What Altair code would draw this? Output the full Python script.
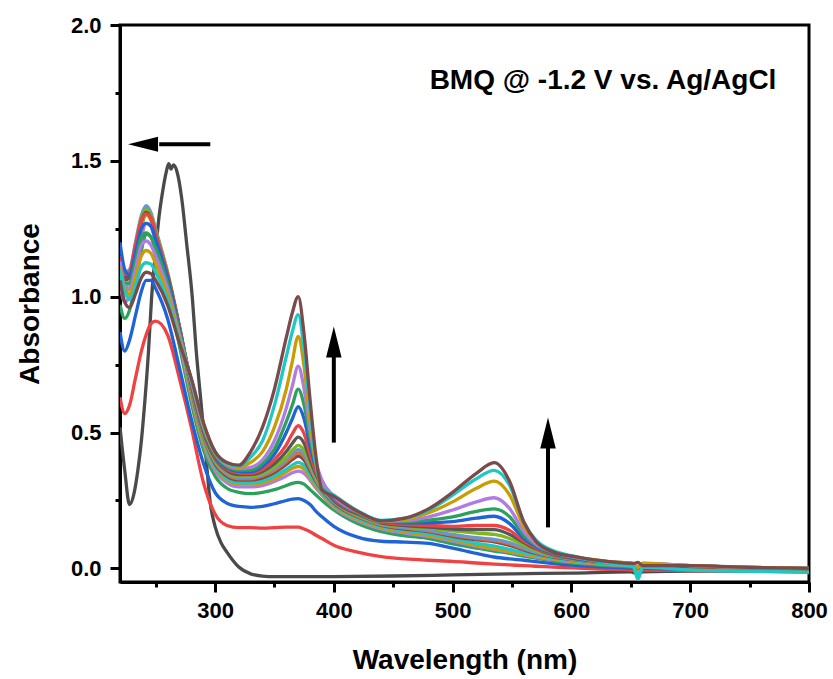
import altair as alt
import pandas as pd

# ---------------- data ----------------
WL = [220, 224, 228, 233, 238, 242, 246, 250, 260, 270, 280, 290, 300, 310,
      320, 330, 340, 350, 360, 365, 370, 375, 380, 385, 390, 400,
      420, 440, 460, 480, 500, 520, 535, 548, 560, 570, 585, 600,
      630, 652, 656, 660, 700, 750, 800]

GRAY_WL = [220, 224, 228, 232, 235, 238, 241, 244, 246.5, 250, 253, 256, 259, 261, 263,
           265, 268, 272, 276, 281, 284, 288, 292, 296, 300, 305, 310, 320, 330, 340,
           350, 400, 450, 500, 550, 600, 650, 656, 660, 700, 750, 800]
GRAY_AB = [0.52, 0.36, 0.235, 0.28, 0.36, 0.47, 0.62, 0.80, 0.99, 1.17, 1.30, 1.39, 1.46, 1.49, 1.47,
           1.485, 1.46, 1.36, 1.20, 0.99, 0.81, 0.62, 0.43, 0.24, 0.155, 0.095, 0.06, 0.005, -0.02, -0.028,
           -0.03, -0.03, -0.028, -0.024, -0.02, -0.017, -0.013, -0.02, -0.013, -0.01, -0.01, -0.01]

RED1 = [0.63, 0.57, 0.60, 0.70, 0.80, 0.86, 0.90, 0.91,
        0.86, 0.70, 0.52, 0.32, 0.20, 0.158,
        0.15, 0.15, 0.148, 0.15, 0.152, 0.152, 0.152, 0.145, 0.135, 0.122, 0.11, 0.085,
        0.06, 0.043, 0.035, 0.03, 0.026, 0.02, 0.016, 0.013, 0.01, 0.008, 0.005, 0.002,
        -0.003, -0.006, -0.015, -0.006, -0.008, -0.01, -0.012]
BLUE2 = [0.87, 0.80, 0.84, 0.93, 1.02, 1.06, 1.06, 1.03,
         0.92, 0.74, 0.55, 0.39, 0.28, 0.24,
         0.228, 0.225, 0.228, 0.238, 0.25, 0.255, 0.257, 0.25, 0.235, 0.21, 0.19, 0.155,
         0.115, 0.10, 0.097, 0.092, 0.075, 0.055, 0.042, 0.035, 0.03, 0.025, 0.018, 0.012,
         0.005, 0.0, -0.012, 0.0, -0.004, -0.008, -0.01]
GREEN3 = [0.97, 0.92, 0.95, 1.05, 1.17, 1.23, 1.22, 1.17,
          1.02, 0.82, 0.61, 0.44, 0.34, 0.295,
          0.28, 0.275, 0.28, 0.29, 0.305, 0.313, 0.317, 0.31, 0.29, 0.27, 0.25, 0.215,
          0.165, 0.135, 0.12, 0.11, 0.09, 0.075, 0.064, 0.055, 0.045, 0.038, 0.028, 0.02,
          0.01, 0.005, -0.01, 0.005, -0.002, -0.007, -0.01]
PURPLE4 = [1.05, 0.98, 1.00, 1.10, 1.22, 1.27, 1.26, 1.20,
           1.04, 0.84, 0.63, 0.46, 0.36, 0.315,
           0.30, 0.30, 0.305, 0.32, 0.34, 0.352, 0.358, 0.35, 0.325, 0.295, 0.27, 0.225,
           0.175, 0.145, 0.13, 0.118, 0.10, 0.082, 0.07, 0.06, 0.05, 0.042, 0.032, 0.024,
           0.014, 0.008, -0.008, 0.008, 0.0, -0.005, -0.008]
GOLD5 = [1.08, 1.02, 1.03, 1.13, 1.25, 1.30, 1.28, 1.22,
         1.06, 0.86, 0.64, 0.47, 0.37, 0.325,
         0.31, 0.31, 0.315, 0.33, 0.355, 0.368, 0.375, 0.365, 0.335, 0.30, 0.275, 0.23,
         0.18, 0.15, 0.135, 0.122, 0.105, 0.085, 0.072, 0.062, 0.052, 0.044, 0.034, 0.026,
         0.015, 0.01, -0.008, 0.01, 0.0, -0.004, -0.008]
CYAN6 = [1.10, 1.04, 1.05, 1.15, 1.27, 1.31, 1.29, 1.23,
         1.07, 0.87, 0.65, 0.48, 0.375, 0.33,
         0.315, 0.315, 0.322, 0.34, 0.365, 0.38, 0.39, 0.378, 0.345, 0.31, 0.28, 0.235,
         0.185, 0.155, 0.14, 0.128, 0.11, 0.092, 0.082, 0.07, 0.058, 0.05, 0.038, 0.03,
         0.016, 0.01, -0.025, 0.008, -0.004, -0.01, -0.014]
BROWN7 = [1.12, 1.06, 1.07, 1.17, 1.28, 1.32, 1.30, 1.24,
          1.08, 0.88, 0.66, 0.49, 0.385, 0.34,
          0.325, 0.325, 0.333, 0.353, 0.383, 0.40, 0.413, 0.398, 0.36, 0.32, 0.288, 0.24,
          0.19, 0.158, 0.145, 0.135, 0.118, 0.105, 0.098, 0.085, 0.068, 0.055, 0.042, 0.033,
          0.02, 0.013, 0.0, 0.013, 0.005, 0.0, -0.004]
ORANGE8 = [1.13, 1.07, 1.08, 1.18, 1.29, 1.325, 1.30, 1.24,
           1.08, 0.88, 0.66, 0.49, 0.39, 0.345,
           0.33, 0.33, 0.34, 0.36, 0.392, 0.41, 0.425, 0.41, 0.37, 0.325, 0.29, 0.243,
           0.192, 0.16, 0.148, 0.138, 0.122, 0.11, 0.102, 0.09, 0.072, 0.058, 0.044, 0.034,
           0.02, 0.013, 0.0, 0.013, 0.005, 0.0, -0.004]
STEEL9 = [1.15, 1.09, 1.10, 1.20, 1.30, 1.335, 1.31, 1.25,
          1.09, 0.89, 0.67, 0.50, 0.395, 0.35,
          0.335, 0.335, 0.345, 0.367, 0.40, 0.42, 0.437, 0.42, 0.375, 0.33, 0.295, 0.245,
          0.195, 0.162, 0.15, 0.14, 0.125, 0.113, 0.107, 0.095, 0.075, 0.06, 0.045, 0.035,
          0.02, 0.013, 0.0, 0.013, 0.005, 0.0, -0.004]
LGREEN10 = [1.14, 1.08, 1.09, 1.19, 1.29, 1.32, 1.30, 1.24,
            1.09, 0.89, 0.67, 0.50, 0.40, 0.355,
            0.34, 0.34, 0.35, 0.375, 0.41, 0.435, 0.453, 0.435, 0.385, 0.335, 0.30, 0.248,
            0.197, 0.165, 0.155, 0.148, 0.138, 0.13, 0.125, 0.11, 0.085, 0.066, 0.048, 0.037,
            0.021, 0.014, 0.0, 0.014, 0.006, 0.001, -0.003]
DGRAY11 = [1.13, 1.07, 1.08, 1.18, 1.28, 1.31, 1.29, 1.23,
           1.08, 0.89, 0.675, 0.505, 0.405, 0.36,
           0.345, 0.345, 0.357, 0.385, 0.43, 0.46, 0.483, 0.46, 0.40, 0.345, 0.305, 0.25,
           0.20, 0.168, 0.158, 0.152, 0.145, 0.143, 0.143, 0.125, 0.095, 0.072, 0.05, 0.038,
           0.022, 0.015, 0.002, 0.015, 0.007, 0.002, -0.002]
RED12 = [1.15, 1.08, 1.09, 1.19, 1.28, 1.305, 1.29, 1.23,
         1.08, 0.89, 0.68, 0.51, 0.41, 0.365,
         0.352, 0.35, 0.365, 0.40, 0.455, 0.495, 0.525, 0.495, 0.42, 0.355, 0.31, 0.255,
         0.203, 0.17, 0.162, 0.158, 0.155, 0.158, 0.158, 0.14, 0.10, 0.075, 0.052, 0.04,
         0.023, 0.016, 0.003, 0.016, 0.008, 0.003, -0.001]
BLUE13 = [1.20, 1.10, 1.08, 1.16, 1.25, 1.27, 1.26, 1.21,
          1.07, 0.88, 0.685, 0.515, 0.415, 0.37,
          0.357, 0.355, 0.375, 0.42, 0.50, 0.55, 0.595, 0.55, 0.45, 0.37, 0.315, 0.26,
          0.205, 0.172, 0.168, 0.168, 0.172, 0.185, 0.192, 0.165, 0.11, 0.08, 0.055, 0.04,
          0.024, 0.017, 0.004, 0.017, 0.009, 0.004, 0.0]
GREEN14 = [1.12, 1.05, 1.05, 1.13, 1.22, 1.235, 1.22, 1.18,
           1.05, 0.87, 0.69, 0.52, 0.42, 0.375,
           0.362, 0.362, 0.385, 0.44, 0.54, 0.60, 0.66, 0.60, 0.48, 0.38, 0.32, 0.262,
           0.207, 0.173, 0.172, 0.178, 0.19, 0.21, 0.219, 0.19, 0.12, 0.085, 0.057, 0.042,
           0.025, 0.018, 0.004, 0.018, 0.01, 0.004, 0.0]
PURPLE15 = [1.13, 1.04, 1.03, 1.10, 1.19, 1.205, 1.19, 1.15,
            1.03, 0.86, 0.69, 0.525, 0.425, 0.38,
            0.367, 0.372, 0.40, 0.47, 0.59, 0.67, 0.744, 0.66, 0.51, 0.39, 0.325, 0.265,
            0.208, 0.174, 0.176, 0.19, 0.215, 0.245, 0.26, 0.22, 0.135, 0.09, 0.06, 0.043,
            0.025, 0.018, 0.004, 0.018, 0.01, 0.004, 0.0]
GOLD16 = [1.11, 1.03, 1.01, 1.07, 1.15, 1.17, 1.16, 1.12,
          1.01, 0.85, 0.695, 0.53, 0.425, 0.385,
          0.372, 0.39, 0.43, 0.52, 0.66, 0.76, 0.854, 0.74, 0.54, 0.38, 0.30, 0.268,
          0.21, 0.175, 0.18, 0.205, 0.245, 0.295, 0.321, 0.27, 0.155, 0.10, 0.062, 0.045,
          0.026, 0.018, 0.004, 0.018, 0.01, 0.004, 0.0]
CYAN17 = [1.10, 1.02, 0.99, 1.04, 1.11, 1.125, 1.12, 1.09,
          0.99, 0.84, 0.695, 0.535, 0.43, 0.387,
          0.376, 0.41, 0.47, 0.60, 0.78, 0.87, 0.934, 0.80, 0.58, 0.39, 0.30, 0.27,
          0.212, 0.177, 0.185, 0.215, 0.27, 0.33, 0.361, 0.305, 0.17, 0.105, 0.065, 0.047,
          0.02, 0.008, -0.04, 0.005, -0.006, -0.01, -0.015]
BROWN18 = [1.06, 0.98, 0.96, 1.01, 1.07, 1.09, 1.085, 1.06,
           0.97, 0.83, 0.70, 0.54, 0.43, 0.39,
           0.38, 0.43, 0.52, 0.66, 0.85, 0.94, 1.0, 0.86, 0.62, 0.41, 0.29, 0.265,
           0.21, 0.175, 0.185, 0.22, 0.28, 0.35, 0.389, 0.32, 0.17, 0.10, 0.06, 0.045,
           0.026, 0.018, 0.022, 0.01, 0.01, 0.004, 0.0]

SERIES = [RED1, BLUE2, GREEN3, PURPLE4, GOLD5, CYAN6, BROWN7, ORANGE8, STEEL9,
          LGREEN10, DGRAY11, RED12, BLUE13, GREEN14, PURPLE15, GOLD16, CYAN17, BROWN18]
COLORS = ["#f04242", "#1f63d6", "#2ca15b", "#b07be3", "#c99c00", "#1fc7c7", "#7b4a4a",
          "#e3692b", "#6a96cf", "#7db81c", "#585858",
          "#f04242", "#1f63d6", "#2ca15b", "#b07be3", "#c99c00", "#1fc7c7", "#7b4a4a"]
GRAY_COLOR = "#4a4a4a"

X_TICKS = [250, 300, 350, 400, 450, 500, 550, 600, 650, 700, 750, 800]
Y_TICKS = [0.0, 0.25, 0.5, 0.75, 1.0, 1.25, 1.5, 1.75, 2.0]

ANNOT = "BMQ @ -1.2 V vs. Ag/AgCl"

# ---------------- encodings ----------------
FONT = "Liberation Sans"
xs = alt.Scale(domain=[220, 800], nice=False, zero=False)
ys = alt.Scale(domain=[-0.05, 2.0], nice=False, zero=False)

x_axis = alt.Axis(
    values=X_TICKS, grid=False, title="Wavelength (nm)",
    labelExpr="datum.value % 100 === 0 ? datum.label : ''",
    tickSize={"condition": {"test": "datum.value % 100 === 0", "value": 10}, "value": 5},
    tickWidth=3, tickColor="black", domainColor="black", domainWidth=3,
    labelFont=FONT, labelFontSize=22, labelFontWeight="bold", labelColor="black",
    labelPadding=8, labelFlush=False,
    titleFont=FONT, titleFontSize=28, titleFontWeight="bold", titleColor="black",
    titlePadding=25,
)
y_axis = alt.Axis(
    values=Y_TICKS, grid=False, title="Absorbance", format=".1f",
    labelExpr="round(datum.value * 4) % 2 === 0 ? datum.label : ''",
    tickSize={"condition": {"test": "round(datum.value * 4) % 2 === 0", "value": 10}, "value": 5},
    tickWidth=3, tickColor="black", domainColor="black", domainWidth=3,
    labelFont=FONT, labelFontSize=22, labelFontWeight="bold", labelColor="black",
    labelPadding=9, labelFlush=False,
    titleFont=FONT, titleFontSize=28, titleFontWeight="bold", titleColor="black",
    titlePadding=26,
)


def enc(ch):
    return ch.encode(
        x=alt.X("wl:Q", scale=xs, axis=x_axis),
        y=alt.Y("ab:Q", scale=ys, axis=y_axis),
    )


layers = []
gray_df = pd.DataFrame({"wl": GRAY_WL, "ab": GRAY_AB})
layers.append(enc(alt.Chart(gray_df).mark_line(
    color=GRAY_COLOR, strokeWidth=3.3, interpolate="monotone", clip=True)))
for vals, col in zip(SERIES, COLORS):
    df = pd.DataFrame({"wl": WL, "ab": vals})
    layers.append(enc(alt.Chart(df).mark_line(
        color=col, strokeWidth=3.3, interpolate="monotone", clip=True, strokeJoin="round")))

# arrows (annotations)
SHAFTS = [([253, 296], [1.561, 1.561]), ([400, 400], [0.463, 0.84]), ([580.3, 580.3], [0.151, 0.50])]
for wls, abs_ in SHAFTS:
    layers.append(enc(alt.Chart(pd.DataFrame({"wl": wls, "ab": abs_})).mark_line(
        color="black", strokeWidth=4)))

HEAD_L = pd.DataFrame({"wl": [239.4], "ab": [1.561]})
HEAD_U = pd.DataFrame({"wl": [400, 580.3], "ab": [0.833, 0.498]})
layers.append(enc(alt.Chart(HEAD_L).mark_point(
    shape="M-1,0L1,-0.5L1,0.5Z", size=900, filled=True, color="black", opacity=1)))
layers.append(enc(alt.Chart(HEAD_U).mark_point(
    shape="M0,-1L0.5,1L-0.5,1Z", size=961, filled=True, color="black", opacity=1)))

TXT = pd.DataFrame({"wl": [626.6], "ab": [1.765], "t": [ANNOT]})
layers.append(alt.Chart(TXT).mark_text(
    font=FONT, fontSize=28, fontWeight="bold", color="black",
    align="center", baseline="alphabetic").encode(
    x=alt.X("wl:Q", scale=xs, axis=x_axis),
    y=alt.Y("ab:Q", scale=ys, axis=y_axis),
    text="t:N"))

chart = alt.layer(*layers).properties(
    width=689, height=557,
    padding={"left": 120, "top": 25, "right": 24, "bottom": 97},
    autosize=alt.AutoSizeParams(type="none"),
    background="white",
).configure_view(stroke="black", strokeWidth=3)

chart.save("out.html", embed_options={"renderer": "svg", "actions": False})
